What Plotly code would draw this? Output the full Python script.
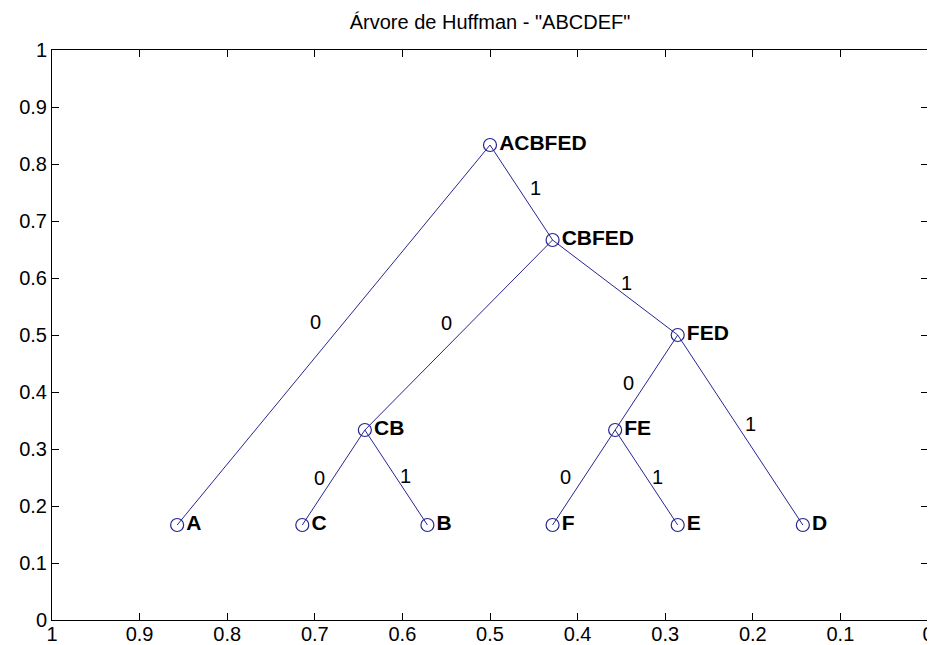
import plotly.graph_objects as go

# ---- data ----
node_names = ["ACBFED", "A", "CBFED", "CB", "FED", "C", "B", "FE", "D", "F", "E"]
node_x = [0.5, 6/7, 3/7, 9/14, 2/7, 5/7, 4/7, 5/14, 1/7, 3/7, 2/7]
node_y = [5/6, 1/6, 4/6, 2/6, 3/6, 1/6, 1/6, 2/6, 1/6, 1/6, 1/6]
node_parent = [None, 0, 0, 2, 2, 3, 3, 4, 4, 7, 7]
edge_bits = [None, "0", "1", "0", "1", "0", "1", "0", "1", "0", "1"]
edge_label_x = [None, 0.699, 0.4475, 0.550, 0.344, 0.695, 0.596, 0.342, 0.203, 0.414, 0.309]
edge_label_y = [None, 0.523, 0.758, 0.521, 0.591, 0.249, 0.253, 0.416, 0.344, 0.251, 0.251]
x_ticks = [round(i * 0.1, 1) for i in range(11)]
y_ticks = [round(i * 0.1, 1) for i in range(11)]
title = 'Árvore de Huffman - "ABCDEF"'

COL = "#262690"
FONT = "Liberation Sans, Arial, sans-serif"

ex, ey = [], []
for i, p in enumerate(node_parent):
    if p is None:
        continue
    ex += [node_x[p], node_x[i], None]
    ey += [node_y[p], node_y[i], None]

fig = go.Figure()
fig.add_trace(go.Scatter(x=ex, y=ey, mode="lines",
                         line=dict(color=COL, width=1), hoverinfo="skip"))
fig.add_trace(go.Scatter(
    x=node_x, y=node_y, mode="markers+text",
    text=["<b>%s</b>" % n for n in node_names],
    textposition="middle right",
    textfont=dict(family=FONT, size=21, color="black"),
    marker=dict(symbol="circle-open", size=13, color=COL, line=dict(width=1.2, color=COL)),
))

for i, b in enumerate(edge_bits):
    if b is None:
        continue
    fig.add_annotation(x=edge_label_x[i], y=edge_label_y[i], text=b, showarrow=False,
                       font=dict(family=FONT, size=20, color="black"))

axis_common = dict(showgrid=False, zeroline=False, showline=True, linecolor="black",
                   linewidth=1, mirror="allticks", ticks="inside", ticklen=7,
                   tickcolor="black", automargin=False, ticklabeloverflow="allow",
                   tickfont=dict(family=FONT, size=20, color="black"))

fig.update_layout(
    width=935, height=645,
    margin=dict(l=44, r=15, t=42, b=33),
    paper_bgcolor="white", plot_bgcolor="white",
    showlegend=False,
    title=dict(text=title, x=0.5, xref="paper", y=0.978, yref="container",
               xanchor="center", yanchor="middle",
               font=dict(family=FONT, size=20, color="black")),
    xaxis=dict(range=[1, 0], tickvals=x_ticks, ticktext=[f"{v:g}" for v in x_ticks],
               ticklabelstandoff=-4, **axis_common),
    yaxis=dict(range=[0, 1], tickvals=y_ticks, ticktext=[f"{v:g}" for v in y_ticks], **axis_common),
)

fig.write_html("out.html")
